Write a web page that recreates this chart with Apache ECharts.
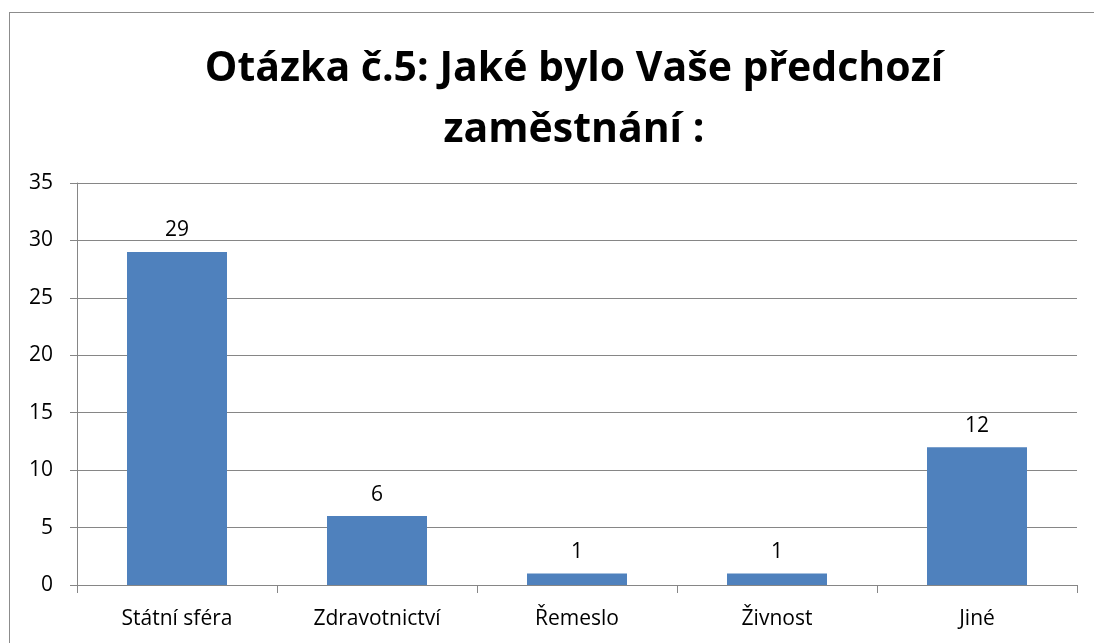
<!DOCTYPE html>
<html>
<head>
<meta charset="utf-8">
<script src="https://cdn.jsdelivr.net/npm/echarts@6/dist/echarts.min.js"></script>
<style>
  html, body { margin: 0; padding: 0; background: #fff; }
  #frame { position: absolute; left: 9px; top: 12px; width: 1100px; height: 700px; border: 1px solid #8c8c8c; box-sizing: border-box; }
  #chart { position: absolute; left: 0; top: 0; width: 1094px; height: 643px; }
</style>
</head>
<body>
<div id="frame"></div>
<div id="chart"></div>
<script>
const categories = ['Státní sféra', 'Zdravotnictví', 'Řemeslo', 'Živnost', 'Jiné']
const counts = [29, 6, 1, 1, 12]
const yTicks = { min: 0, max: 35, interval: 5 }

const font = 'Open Sans'
const chart = echarts.init(document.getElementById('chart'))
chart.setOption({
  animation: false,
  title: {
    text: 'Otázka č.5: Jaké bylo Vaše předchozí\nzaměstnání :',
    left: 569,
    top: 34,
    textAlign: 'center',
    textStyle: {
      fontFamily: font,
      fontWeight: 'bold',
      fontSize: 41,
      lineHeight: 61,
      color: '#000'
    }
  },
  grid: {
    left: 77,
    top: 183,
    right: 17,
    bottom: 58
  },
  xAxis: {
    type: 'category',
    data: categories,
    axisLine: { lineStyle: { color: '#868686', width: 1 } },
    axisTick: { show: true, length: 8, lineStyle: { color: '#868686' } },
    axisLabel: { fontFamily: font, fontSize: 21, color: '#000', margin: 24 }
  },
  yAxis: {
    type: 'value',
    min: yTicks.min,
    max: yTicks.max,
    interval: yTicks.interval,
    axisLine: { show: true, lineStyle: { color: '#868686', width: 1 } },
    axisTick: { show: true, length: 7, lineStyle: { color: '#868686' } },
    axisLabel: { fontFamily: font, fontSize: 21, color: '#000', margin: 24 },
    splitLine: { lineStyle: { color: '#868686', width: 1 } }
  },
  series: [
    {
      type: 'bar',
      data: counts,
      barWidth: '50%',
      itemStyle: { color: '#4F81BD' },
      label: {
        show: true,
        position: 'top',
        distance: 11,
        fontFamily: font,
        fontSize: 21,
        color: '#000'
      }
    }
  ]
})
</script>
</body>
</html>
